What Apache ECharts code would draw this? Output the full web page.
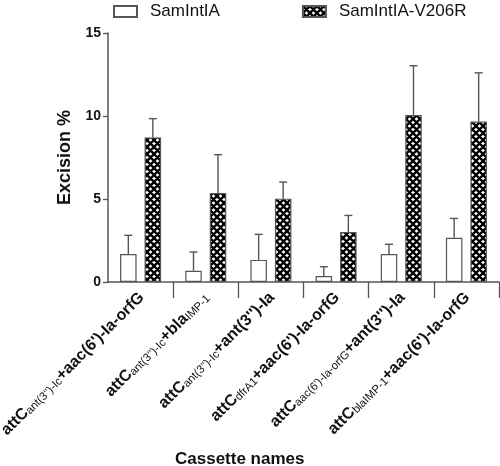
<!DOCTYPE html>
<html>
<head>
<meta charset="utf-8">
<script src="https://cdn.jsdelivr.net/npm/echarts@6/dist/echarts.min.js"></script>
<style>html,body{margin:0;padding:0;background:#fff;}#c{width:500px;height:466px;}</style>
</head>
<body>
<div id="c"></div>
<script>
// ---- data ----
const categories = [
  "attC_{ant(3'')-Ic}+aac(6')-Ia-orfG",
  "attC_{ant(3'')-Ic}+bla_{IMP-1}",
  "attC_{ant(3'')-Ic}+ant(3'')-Ia",
  "attC_{dfrA1}+aac(6')-Ia-orfG",
  "attC_{aac(6')-Ia-orfG}+ant(3'')-Ia",
  "attC_{blaIMP-1}+aac(6')-Ia-orfG"
];
const seriesNames = ["SamIntIA", "SamIntIA-V206R"];
const wtMean = [1.69, 0.68, 1.33, 0.36, 1.69, 2.67];
const wtSD   = [1.12, 1.13, 1.54, 0.56, 0.58, 1.16];
const mutMean = [8.71, 5.36, 5.02, 3.01, 10.06, 9.67];
const mutSD   = [1.13, 2.31, 1.00, 1.00, 2.97, 2.93];
const yTicks = [0, 5, 10, 15];
const yTitle = "Excision %";
const xTitle = "Cassette names";

// ---- styles ----
const FONT = "'Liberation Sans', Arial, Helvetica, sans-serif";
const AXIS_COLOR = '#555';
const BAR_W = 16.5;
const BAR_GAP_PX = 8;

function makeHatch() {
  const s = 7;
  const cv = document.createElement('canvas');
  cv.width = s; cv.height = s;
  const ctx = cv.getContext('2d');
  ctx.fillStyle = '#fff';
  ctx.fillRect(0, 0, s, s);
  ctx.strokeStyle = '#000';
  ctx.lineWidth = 2.3;
  ctx.beginPath();
  for (let k = -1; k <= 2; k++) {
    ctx.moveTo(-s, -s + k * s); ctx.lineTo(2 * s, 2 * s + k * s);
    ctx.moveTo(-s, 2 * s + k * s - s); ctx.lineTo(2 * s, -s + k * s - s);
  }
  ctx.stroke();
  return cv;
}
const hatch = makeHatch();

function labelFmt(v) {
  return '{m|' + v.replace(/_\{([^}]*)\}/g, '}{s|$1}{m|') + '}';
}

function errRender(offset) {
  return function (params, api) {
    const idx = api.value(0);
    const mean = api.value(1);
    const sd = api.value(2);
    const p0 = api.coord([idx, mean]);
    const p1 = api.coord([idx, mean + sd]);
    const x = p0[0] + offset;
    const st = { stroke: AXIS_COLOR, lineWidth: 1.4 };
    return {
      type: 'group',
      children: [
        { type: 'line', shape: { x1: x, y1: p0[1], x2: x, y2: p1[1] }, style: st },
        { type: 'line', shape: { x1: x - 4, y1: p1[1], x2: x + 4, y2: p1[1] }, style: st }
      ]
    };
  };
}
const off = (BAR_W + BAR_GAP_PX) / 2;

const chart = echarts.init(document.getElementById('c'), null, { renderer: 'canvas' });
chart.setOption({
  animation: false,
  backgroundColor: '#fff',
  textStyle: { fontFamily: FONT },
  title: {
    text: xTitle,
    left: 170, top: 446,
    textStyle: { fontFamily: FONT, fontSize: 17, fontWeight: 'bold', color: '#111' }
  },
  legend: {
    data: seriesNames,
    left: 113, top: 3,
    padding: 0,
    icon: 'rect',
    itemWidth: 23, itemHeight: 11,
    itemGap: 82,
    textStyle: { fontFamily: FONT, fontSize: 17, color: '#111', padding: [0, 0, 0, 8] }
  },
  grid: { left: 108, right: 1, top: 33, bottom: 184, containLabel: false, outerBoundsMode: 'none' },
  xAxis: {
    type: 'category',
    data: categories,
    axisLine: { lineStyle: { color: AXIS_COLOR, width: 1.5 } },
    axisTick: { show: true, length: 16, lineStyle: { color: AXIS_COLOR, width: 1.3 },
      interval: function (i) { return i > 0 && i < categories.length; } },
    axisLabel: {
      interval: 0,
      rotate: 45,
      margin: 12,
      formatter: labelFmt,
      rich: {
        m: { fontFamily: FONT, fontSize: 16, fontWeight: 'bold', color: '#111', verticalAlign: 'bottom', lineHeight: 19 },
        s: { fontFamily: FONT, fontSize: 11.3, color: '#111', verticalAlign: 'bottom', lineHeight: 8 }
      }
    }
  },
  yAxis: {
    type: 'value',
    min: 0, max: 15, interval: 5,
    name: yTitle,
    nameLocation: 'middle',
    nameGap: 28,
    nameTextStyle: { fontFamily: FONT, fontSize: 18, fontWeight: 'bold', color: '#111' },
    axisLine: { show: true, lineStyle: { color: AXIS_COLOR, width: 1.5 } },
    axisTick: { show: true, length: 5, lineStyle: { color: AXIS_COLOR, width: 1.3 } },
    axisLabel: {
      margin: 7,
      fontFamily: FONT, fontSize: 14, fontWeight: 'bold', color: '#111',
      formatter: function (v) { return yTicks.indexOf(v) >= 0 ? String(v) : ''; }
    },
    splitLine: { show: false }
  },
  series: [
    {
      name: seriesNames[0], type: 'bar', data: wtMean,
      barWidth: BAR_W, barGap: (BAR_GAP_PX / BAR_W * 100) + '%',
      itemStyle: { color: '#fff', borderColor: AXIS_COLOR, borderWidth: 1.2 }
    },
    {
      name: seriesNames[1], type: 'bar', data: mutMean,
      barWidth: BAR_W, barGap: (BAR_GAP_PX / BAR_W * 100) + '%',
      itemStyle: { color: { image: hatch, repeat: 'repeat' }, borderColor: AXIS_COLOR, borderWidth: 1.2 }
    },
    {
      type: 'custom', name: 'err0', z: 5,
      renderItem: errRender(-off),
      encode: { x: 0, y: 1 },
      data: wtMean.map((m, i) => [i, m, wtSD[i]])
    },
    {
      type: 'custom', name: 'err1', z: 5,
      renderItem: errRender(off),
      encode: { x: 0, y: 1 },
      data: mutMean.map((m, i) => [i, m, mutSD[i]])
    }
  ]
});
</script>
</body>
</html>
